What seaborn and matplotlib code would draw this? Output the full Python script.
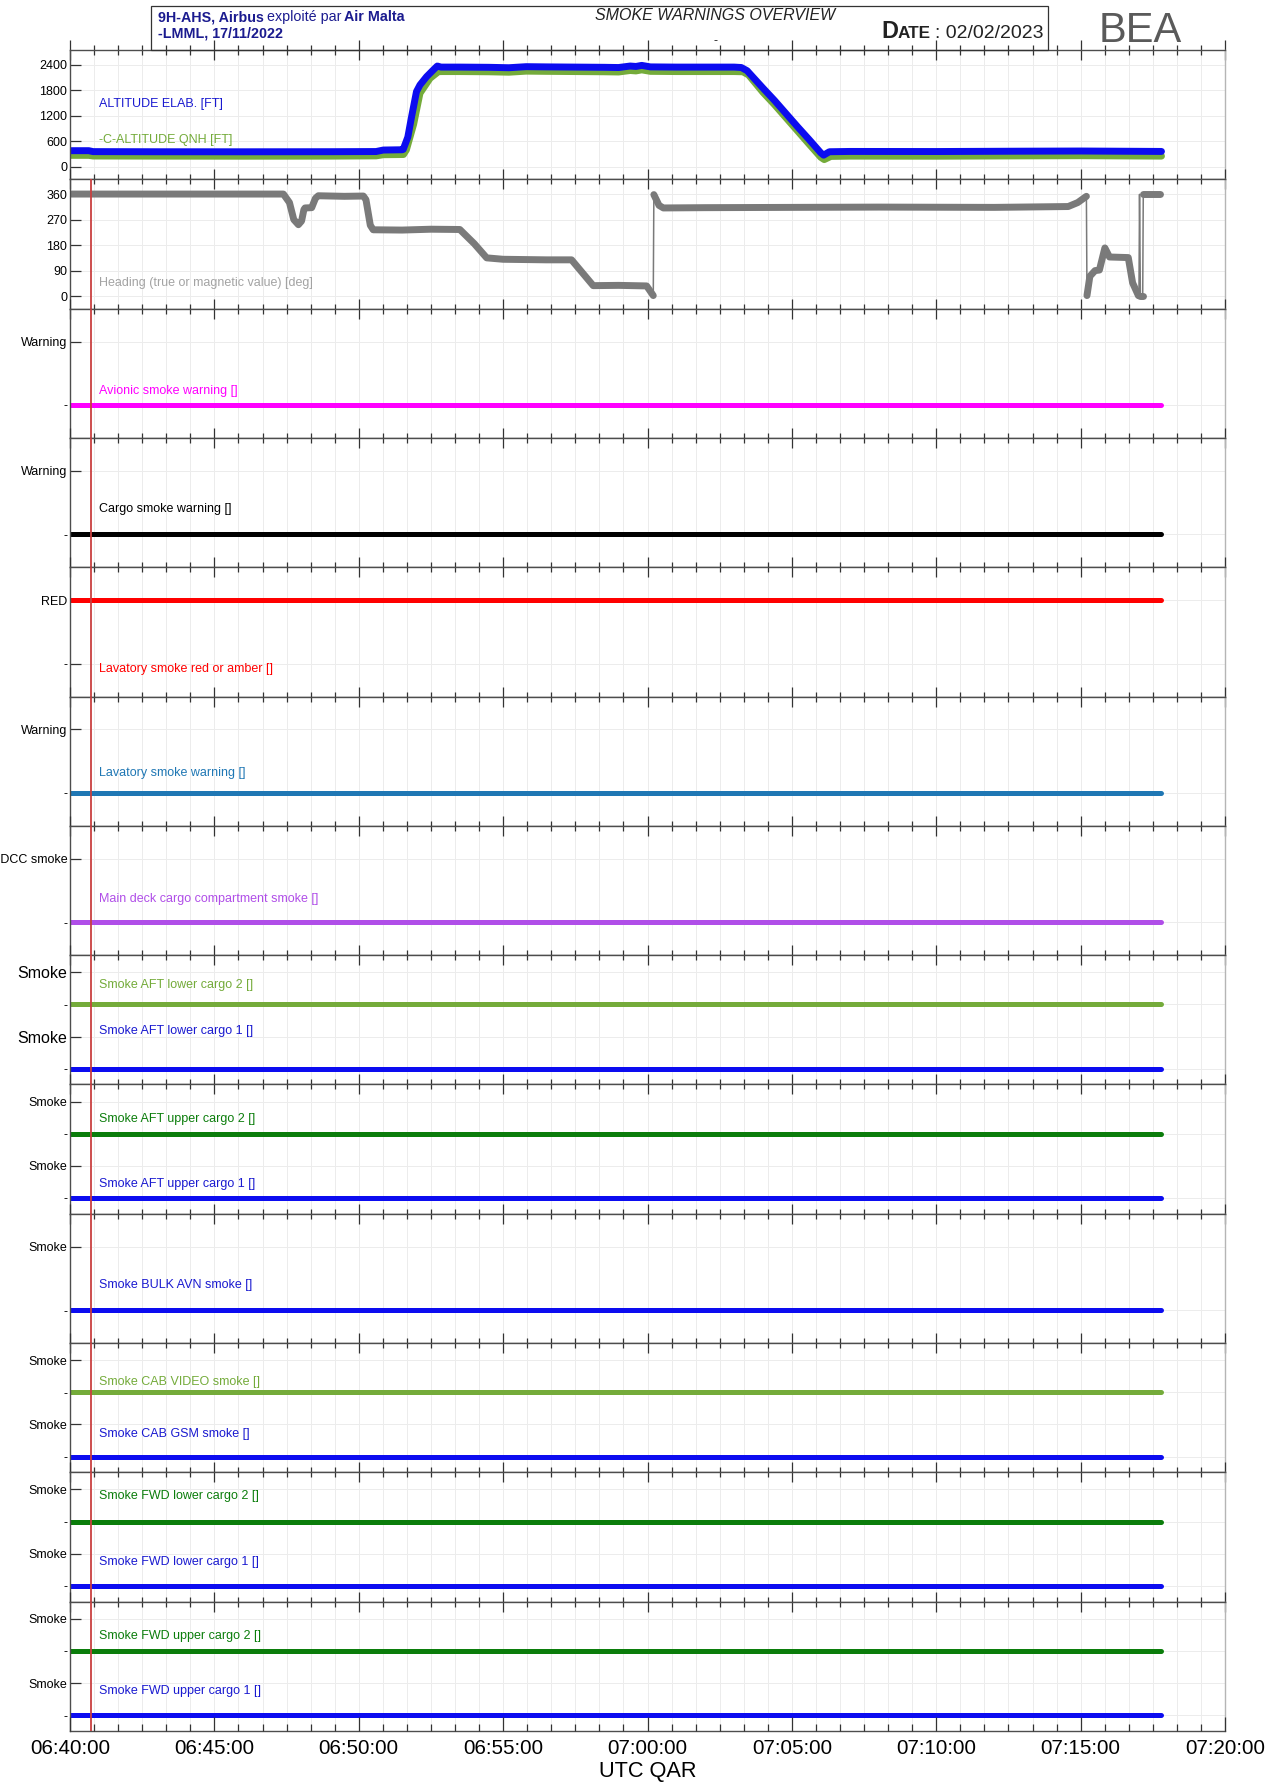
import numpy as np
import pandas as pd
import matplotlib
matplotlib.use("Agg")
import matplotlib.pyplot as plt
from matplotlib import font_manager
from matplotlib.patches import Rectangle
from matplotlib.ticker import MultipleLocator
import seaborn as sns

# ---------------- data (time in minutes after 06:40:00 UTC) ----------------
x_tick_minutes = [0, 5, 10, 15, 20, 25, 30, 35, 40]
x_tick_labels = ["06:40:00", "06:45:00", "06:50:00", "06:55:00", "07:00:00",
                 "07:05:00", "07:10:00", "07:15:00", "07:20:00"]
event_time = 0.72  # red cursor

alt_time = [0.0, 0.65, 0.8, 3.0, 6.0, 9.0, 10.6, 10.85, 11.5, 11.54, 11.7, 11.83,
            12.0, 12.12, 12.35, 12.58, 12.72, 12.85, 13.5, 14.5, 15.2, 15.8, 16.5,
            17.5, 18.5, 19.0, 19.4, 19.6, 19.8, 20.1, 21.0, 22.0, 23.0, 23.25,
            23.45, 24.0, 24.4, 24.8, 25.2, 25.6, 26.0, 26.1, 26.3, 27.0, 30.0,
            33.0, 35.0, 37.8]
alt_elab = [380, 380, 358, 355, 354, 356, 360, 395, 402, 410, 700, 1180,
            1770, 1925, 2120, 2277, 2370, 2345, 2345, 2340, 2330, 2355, 2350,
            2345, 2340, 2335, 2370, 2360, 2385, 2350, 2345, 2345, 2345, 2335,
            2260, 1850, 1560, 1250, 940, 640, 330, 275, 355, 362, 360,
            368, 372, 362]

qnh_time = [0.0, 0.65, 0.8, 3.0, 6.0, 9.0, 10.6, 10.85, 11.55, 11.65, 11.9,
            12.12, 12.47, 12.76, 12.9, 13.5, 14.5, 15.2, 15.8, 16.5, 17.5, 18.5,
            19.0, 19.4, 19.6, 19.8, 20.1, 21.0, 22.0, 23.0, 23.3, 23.5, 24.0,
            24.4, 24.8, 25.2, 25.6, 26.0, 26.12, 26.35, 27.0, 30.0, 33.0, 35.0,
            37.8]
alt_qnh = [270, 270, 255, 252, 250, 252, 258, 285, 290, 400, 1000,
           1730, 2082, 2238, 2240, 2240, 2235, 2225, 2250, 2245, 2240, 2235,
           2230, 2265, 2255, 2280, 2245, 2240, 2240, 2240, 2235, 2160, 1750,
           1460, 1150, 840, 530, 225, 170, 245, 252, 250, 258, 262, 252]

hdg_time = [0.0, 7.39, 7.6, 7.75, 7.91, 8.02, 8.1, 8.14, 8.37, 8.5, 8.6, 9.5,
            10.16, 10.25, 10.4, 10.5, 11.5, 12.5, 13.5, 14.0, 14.43, 15.0, 16.5,
            17.37, 18.12, 19.0, 19.97, 20.2, 20.22, 20.4, 20.55, 22.0, 25.0,
            28.0, 32.0, 34.57, 34.9, 35.2, 35.22, 35.32, 35.5, 35.65, 35.84,
            36.0, 36.65, 36.8, 37.0, 37.02, 37.04, 37.07, 37.15, 37.17, 37.75]
heading = [360, 360, 330, 270, 252, 265, 305, 311, 312, 345, 354, 352,
           353, 340, 250, 234, 233, 236, 235, 185, 135, 130, 128,
           128, 37, 38, 36, 2, 358, 320, 311, 312, 313,
           314, 313, 316, 330, 352, 2, 70, 90, 92, 170,
           138, 136, 47, 2, 1, 359, 1, 1, 359, 359]

state_time = [0.0, 37.8]
avionic_smoke_warning = [0, 0]
cargo_smoke_warning = [0, 0]
lavatory_smoke_red_amber = [1, 1]
lavatory_smoke_warning = [0, 0]
main_deck_cargo_smoke = [0, 0]
aft_lower_cargo_2 = [0, 0]
aft_lower_cargo_1 = [0, 0]
aft_upper_cargo_2 = [0, 0]
aft_upper_cargo_1 = [0, 0]
bulk_avn_smoke = [0, 0]
cab_video_smoke = [0, 0]
cab_gsm_smoke = [0, 0]
fwd_lower_cargo_2 = [0, 0]
fwd_lower_cargo_1 = [0, 0]
fwd_upper_cargo_2 = [0, 0]
fwd_upper_cargo_1 = [0, 0]

# ---------------- styling ----------------
sns.set_theme(style="white")
plt.rcParams["font.family"] = ["Liberation Sans", "DejaVu Sans"]
plt.rcParams["axes.axisbelow"] = "line"

installed = {f.name for f in font_manager.fontManager.ttflist}
HAS_NARROW = "Liberation Sans Narrow" in installed
NARROW = ["Liberation Sans Narrow", "Liberation Sans", "DejaVu Sans"] if HAS_NARROW \
    else ["Liberation Sans", "DejaVu Sans"]
NS = 1.0 if HAS_NARROW else 0.87  # size factor when no condensed face exists

BLUE = "#0c0cf0"
GREEN_L = "#74ab3a"
GREEN_D = "#0b7d0b"
GRAY = "#7a7a7a"
TICK = "#333333"
LABEL_X = 1.0

W, H = 1274, 1782
fig = plt.figure(figsize=(W / 100, H / 100), dpi=100)
fig.patch.set_facecolor("white")
gs = fig.add_gridspec(13, 1, left=70 / W, right=1225 / W,
                      top=1 - 50 / H, bottom=1 - 1731 / H, hspace=0)
axes = [fig.add_subplot(gs[i]) for i in range(13)]
for ax in axes[1:]:
    ax.sharex(axes[0])
axes[0].set_xlim(0, 40)
axes[0].xaxis.set_major_locator(MultipleLocator(5))
axes[0].xaxis.set_minor_locator(MultipleLocator(5 / 6))


def style_axes(ax):
    ax.set_facecolor("white")
    for s in ("top", "bottom", "left"):
        ax.spines[s].set_color("#4d4d4d")
        ax.spines[s].set_linewidth(1.0)
    ax.spines["right"].set_color("#b5b5b5")
    ax.spines["right"].set_linewidth(1.0)
    ax.tick_params(axis="y", which="major", direction="in", length=8, width=0.9,
                   color=TICK, labelsize=9, pad=2, labelcolor="black",
                   left=True, right=False)
    ax.tick_params(axis="y", which="minor", left=False, right=False)
    # crossing ticks on the upper edge of every panel
    ax.tick_params(axis="x", which="major", top=True, bottom=False, direction="inout",
                   length=15, width=0.9, color=TICK, labelbottom=False, labeltop=False)
    ax.tick_params(axis="x", which="minor", top=True, bottom=False, direction="inout",
                   length=7, width=0.9, color=TICK)
    ax.grid(True, which="both", axis="x", color="#ececec", lw=0.7)
    ax.grid(True, which="major", axis="y", color="#ececec", lw=0.7)
    ax.set_xlabel("")
    ax.set_ylabel("")


# ---- panel 1: altitudes ----
ax = axes[0]
sns.lineplot(x=qnh_time, y=alt_qnh, ax=ax, color=GREEN_L, lw=5, estimator=None,
             legend=False, solid_capstyle="round")
sns.lineplot(x=alt_time, y=alt_elab, ax=ax, color=BLUE, lw=5, estimator=None,
             legend=False, solid_capstyle="round")
ax.set_ylim(-293, 2747)
ax.set_yticks([0, 600, 1200, 1800, 2400])
ax.yaxis.set_minor_locator(MultipleLocator(300))
ax.text(LABEL_X, 1467, "ALTITUDE ELAB. [FT]", color="#1a1ad0", fontsize=9, va="center")
ax.text(LABEL_X, 640, "-C-ALTITUDE QNH [FT]", color=GREEN_L, fontsize=9, va="center")

# ---- panel 2: heading ----
ax = axes[1]
hdg = pd.DataFrame({"t": hdg_time, "deg": heading})
hdg["seg"] = (hdg["deg"].diff().abs() > 180).cumsum()
sns.lineplot(data=hdg, x="t", y="deg", ax=ax, color=GRAY, lw=1.1, estimator=None,
             sort=False, legend=False)
sns.lineplot(data=hdg, x="t", y="deg", units="seg", ax=ax, color=GRAY, lw=5,
             estimator=None, sort=False, legend=False, solid_capstyle="round")
ax.set_ylim(-44, 412)
ax.set_yticks([0, 90, 180, 270, 360])
ax.text(LABEL_X, 48, "Heading (true or magnetic value) [deg]", color="#a3a3a3",
        fontsize=9, va="center")

# ---- discrete state panels ----
state_panels = [
    (["-", "Warning"], 9,
     [(avionic_smoke_warning, 0, "#ff00ff", "Avionic smoke warning []", 0.22)]),
    (["-", "Warning"], 9,
     [(cargo_smoke_warning, 0, "black", "Cargo smoke warning []", 0.40)]),
    (["-", "RED"], 9,
     [(lavatory_smoke_red_amber, 0, "#ff0000", "Lavatory smoke red or amber []", -0.09)]),
    (["-", "Warning"], 9,
     [(lavatory_smoke_warning, 0, "#1f77b4", "Lavatory smoke warning []", 0.32)]),
    (["-", "MDCC smoke"], 9,
     [(main_deck_cargo_smoke, 0, "#b04ee8", "Main deck cargo compartment smoke []", 0.36)]),
    (["-", "Smoke", "-", "Smoke"], 11.5,
     [(aft_lower_cargo_2, 2, GREEN_L, "Smoke AFT lower cargo 2 []", 2.61),
      (aft_lower_cargo_1, 0, BLUE, "Smoke AFT lower cargo 1 []", 1.17)]),
    (["-", "Smoke", "-", "Smoke"], 9,
     [(aft_upper_cargo_2, 2, GREEN_D, "Smoke AFT upper cargo 2 []", 2.47),
      (aft_upper_cargo_1, 0, BLUE, "Smoke AFT upper cargo 1 []", 0.42)]),
    (["-", "Smoke"], 9,
     [(bulk_avn_smoke, 0, BLUE, "Smoke BULK AVN smoke []", 0.40)]),
    (["-", "Smoke", "-", "Smoke"], 9,
     [(cab_video_smoke, 2, GREEN_L, "Smoke CAB VIDEO smoke []", 2.33),
      (cab_gsm_smoke, 0, BLUE, "Smoke CAB GSM smoke []", 0.71)]),
    (["-", "Smoke", "-", "Smoke"], 9,
     [(fwd_lower_cargo_2, 2, GREEN_D, "Smoke FWD lower cargo 2 []", 2.79),
      (fwd_lower_cargo_1, 0, BLUE, "Smoke FWD lower cargo 1 []", 0.74)]),
    (["-", "Smoke", "-", "Smoke"], 9,
     [(fwd_upper_cargo_2, 2, GREEN_D, "Smoke FWD upper cargo 2 []", 2.47),
      (fwd_upper_cargo_1, 0, BLUE, "Smoke FWD upper cargo 1 []", 0.74)]),
]

for ax in axes:
    style_axes(ax)

for ax, (ylabels, lsize, series) in zip(axes[2:], state_panels):
    for values, offset, color, name, label_y in series:
        sns.lineplot(x=state_time, y=np.asarray(values) + offset, ax=ax, color=color,
                     lw=3.6, estimator=None, legend=False, solid_capstyle="round")
        tcolor = "#1a1ad0" if color == BLUE else color
        ax.text(LABEL_X, label_y, name, color=tcolor, fontsize=9, va="center")
    n = len(ylabels)
    ax.set_yticks(list(range(n)))
    ax.set_yticklabels(ylabels)
    if n == 2:
        ax.set_ylim(-0.518, 1.518)
    else:
        ax.set_ylim(-0.49, 3.53)
    for lab in ax.get_yticklabels():
        lab.set_fontsize(lsize if lab.get_text() != "-" else 9)
    ax.set_xlabel("")
    ax.set_ylabel("")

for ax in axes[:2]:
    ax.set_xlabel("")
    ax.set_ylabel("")

for ax in axes[1:]:
    ax.axvline(event_time, color="#c94040", lw=1.3, zorder=4)

# ---- bottom time axis (overlay so its ticks point inwards only) ----
last = axes[-1]
ov = fig.add_axes(last.get_position(), sharex=last, frameon=False)
ov.patch.set_visible(False)
ov.set_yticks([])
ov.grid(False)
ov.set_xticks(x_tick_minutes)
ov.set_xticklabels(x_tick_labels)
ov.tick_params(axis="x", which="major", bottom=True, top=False, labelbottom=True,
               direction="in", length=10, width=0.9, color=TICK, pad=6,
               labelsize=17 * NS, labelcolor="black")
ov.tick_params(axis="x", which="minor", bottom=True, top=False, direction="in",
               length=5, width=0.9, color=TICK)
ov.tick_params(axis="y", left=False, right=False, labelleft=False)
for lab in ov.get_xticklabels():
    lab.set_fontfamily(NARROW)
ov.set_xlabel("UTC QAR", fontsize=18 * NS, family=NARROW, color="black", labelpad=2)

# ---------------- header ----------------
fig.add_artist(Rectangle((151 / W, 1 - 50 / H), (1048 - 151) / W, 44 / H,
                         transform=fig.transFigure, fill=False, ec="#333333", lw=0.9))
renderer = fig.canvas.get_renderer()


def text_runs(x_px, y_px, parts):
    x = x_px
    for s, kw, gap in parts:
        t = fig.text(x / W, 1 - y_px / H, s, ha="left", va="baseline", **kw)
        x += t.get_window_extent(renderer).width + gap


NAVY = "#1b1b8f"
hdr = dict(family=NARROW, size=(12.0 if HAS_NARROW else 10.3), color=NAVY)
text_runs(158, 21, [("9H-AHS, Airbus", dict(hdr, weight="bold"), 3),
                    ("exploité par", hdr, 3),
                    ("Air Malta", dict(hdr, weight="bold"), 0)])
text_runs(158, 38, [("-LMML, 17/11/2022", dict(hdr, weight="bold"), 0)])
fig.text(715 / W, 1 - 16 / H, "SMOKE WARNINGS OVERVIEW", ha="center", va="center",
         family=NARROW, size=(13.5 if HAS_NARROW else 11.5), style="italic",
         color="#222222")
fig.text(715 / W, 1 - 41 / H, "-", ha="center", va="center", family=NARROW,
         size=9, color="#222222")
dk = dict(family=NARROW, color="#222222")
big = 1.0 if HAS_NARROW else 0.87 * 1.29
text_runs(881, 38, [("D", dict(dk, size=15 * big, weight="bold"), 0),
                    ("ATE", dict(dk, size=11 * big, weight="bold"), 4),
                    (": 02/02/2023", dict(dk, size=12.5 * big), 0)])
fig.text(1140 / W, 1 - 31 / H, "BEA", ha="center", va="center",
         family=["Liberation Sans", "DejaVu Sans"], weight="normal", size=30,
         color="#5a5a5a")

fig.savefig("out.png", dpi=100, facecolor="white")
